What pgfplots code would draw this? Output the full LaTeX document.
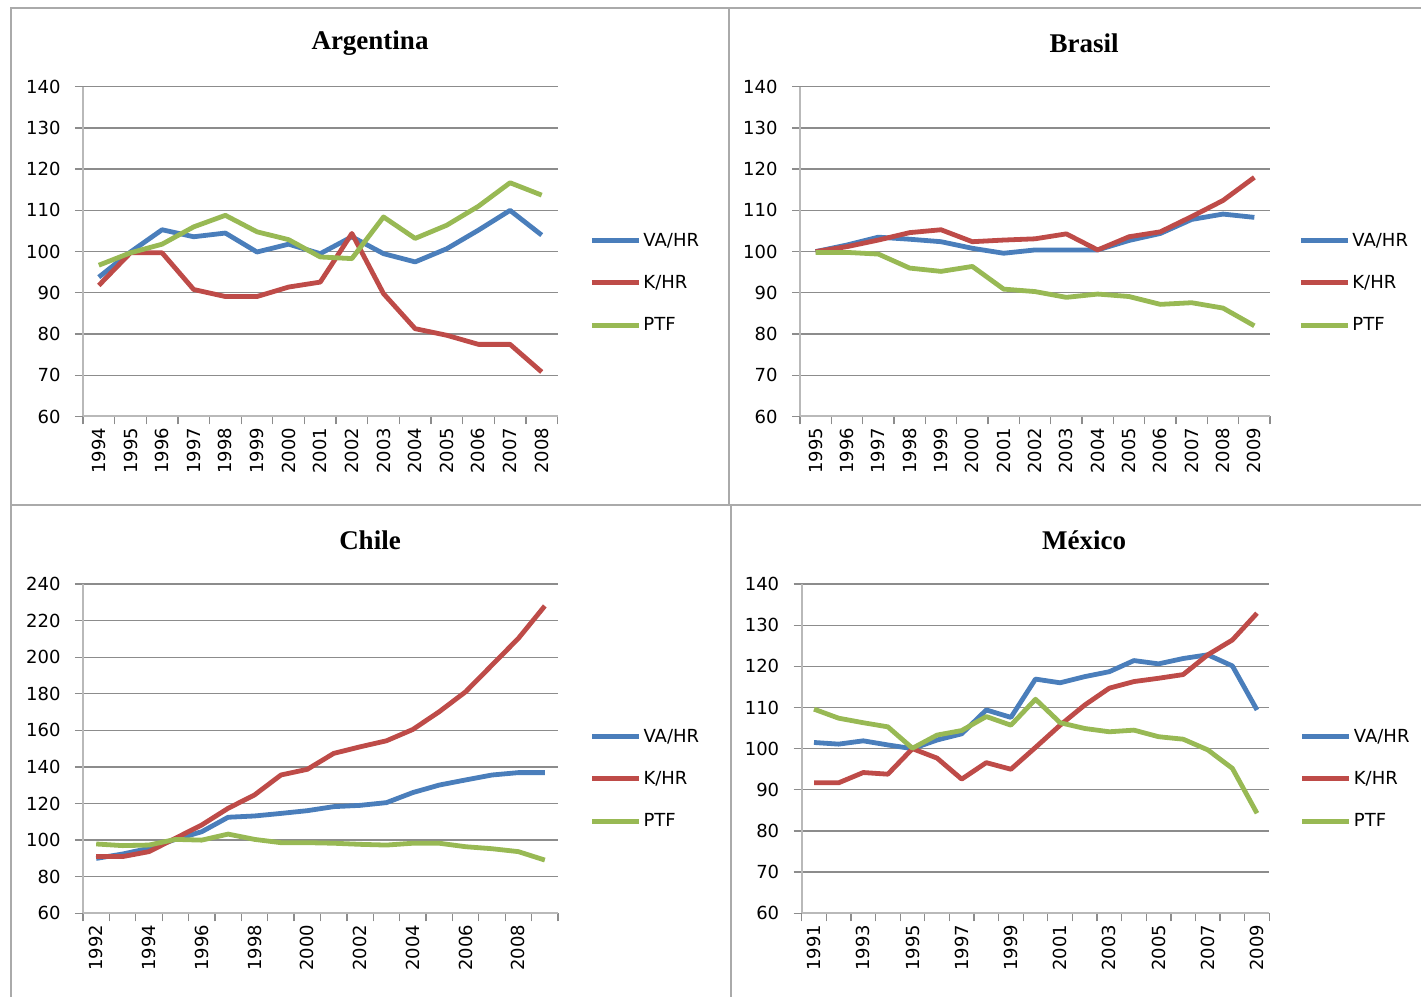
\documentclass[border=0pt]{standalone}
\usepackage{fontspec}
\usepackage{pgfplots}
\pgfplotsset{compat=1.18}
\newfontfamily\tickfont{DejaVu Sans}
\newfontfamily\titlefont{Liberation Serif}
\definecolor{cva}{RGB}{74,126,187}
\definecolor{ck}{RGB}{190,75,72}
\definecolor{cp}{RGB}{152,185,84}
\definecolor{gridc}{RGB}{140,140,140}
\definecolor{axc}{RGB}{185,185,185}
\definecolor{framec}{RGB}{170,170,170}
\newcommand{\tf}{\tickfont\fontsize{18}{21}\selectfont}
\pgfplotsset{
  panel/.style={
    scale only axis, anchor=south west,
    axis lines=left, axis line style={-, draw=axc, line width=2pt},
    ymajorgrids, grid style={draw=gridc, line width=1.3pt},
    tick align=outside, major tick length=8pt, minor tick length=8pt,
    ytick style={draw=gridc, line width=1.3pt},
    xtick style={draw=none},
    minor x tick style={draw=gridc, line width=1.3pt},
    /pgf/number format/assume math mode=true,
    tick label style={font=\tf},
    yticklabel style={xshift=-11pt},
    xticklabel style={rotate=90, anchor=east},
    legend cell align=left,
    legend style={draw=none, fill=none, inner sep=0pt, font=\tf, row sep=23.5pt, anchor=west},
    legend image code/.code={\draw[##1, line width=5pt] (0pt,0pt) -- (47pt,0pt);},
    every axis plot/.append style={line width=4.8pt, line join=round, mark=none},
  }
}
\begin{document}
\begin{tikzpicture}
\useasboundingbox (0pt,0pt) rectangle (1421pt,997pt);
% frame
\draw[framec, line width=2pt] (11pt,0pt) -- (11pt,989pt) -- (1421pt,989pt);
\draw[framec, line width=2pt] (729pt,989pt) -- (729pt,492pt);
\draw[framec, line width=2pt] (731pt,492pt) -- (731pt,0pt);
\draw[framec, line width=2pt] (11pt,492pt) -- (1421pt,492pt);
% titles
\node[font=\titlefont\bfseries\fontsize{27}{31}\selectfont] at (370pt,954pt) {Argentina};
\node[font=\titlefont\bfseries\fontsize{27}{31}\selectfont] at (1084pt,954pt) {Brasil};
\node[font=\titlefont\bfseries\fontsize{27}{31}\selectfont] at (370pt,457pt) {Chile};
\node[font=\titlefont\bfseries\fontsize{27}{31}\selectfont] at (1084pt,457pt) {México};

% Argentina
\begin{axis}[panel, at={(83pt,580.5pt)}, width=474.5pt, height=329.8pt,
  xmin=0.5, xmax=15.5, ymin=60, ymax=140, ytick={60,70,...,140},
  xtick={1,...,15}, minor xtick={0.5,1.5,...,15.5},
  xticklabels={1994,1995,1996,1997,1998,1999,2000,2001,2002,2003,2004,2005,2006,2007,2008},
  legend style={at={(1.067,0.405)}}]
\addplot[cva] coordinates {(1,93.8)(2,99.9)(3,105.3)(4,103.6)(5,104.5)(6,99.9)(7,101.8)(8,99.5)(9,103.6)(10,99.5)(11,97.5)(12,100.7)(13,105.2)(14,110)(15,104)};
\addplot[ck] coordinates {(1,91.8)(2,99.7)(3,99.7)(4,90.8)(5,89.1)(6,89.1)(7,91.4)(8,92.6)(9,104.4)(10,89.8)(11,81.3)(12,79.7)(13,77.5)(14,77.5)(15,70.8)};
\addplot[cp] coordinates {(1,96.7)(2,99.7)(3,101.8)(4,106)(5,108.8)(6,104.8)(7,102.9)(8,98.7)(9,98.3)(10,108.4)(11,103.2)(12,106.4)(13,111)(14,116.7)(15,113.7)};
\legend{VA/HR,K/HR,PTF}
\end{axis}

% Brasil
\begin{axis}[panel, at={(800pt,580.5pt)}, width=470pt, height=329.8pt,
  xmin=0.5, xmax=15.5, ymin=60, ymax=140, ytick={60,70,...,140},
  xtick={1,...,15}, minor xtick={0.5,1.5,...,15.5},
  xticklabels={1995,1996,1997,1998,1999,2000,2001,2002,2003,2004,2005,2006,2007,2008,2009},
  legend style={at={(1.06,0.405)}}]
\addplot[cva] coordinates {(1,100)(2,101.6)(3,103.5)(4,103)(5,102.4)(6,100.8)(7,99.6)(8,100.4)(9,100.4)(10,100.4)(11,102.7)(12,104.4)(13,107.8)(14,109.1)(15,108.3)};
\addplot[ck] coordinates {(1,100)(2,101.2)(3,102.8)(4,104.6)(5,105.3)(6,102.4)(7,102.8)(8,103.1)(9,104.3)(10,100.4)(11,103.6)(12,104.8)(13,108.5)(14,112.4)(15,118)};
\addplot[cp] coordinates {(1,99.8)(2,99.8)(3,99.4)(4,96)(5,95.2)(6,96.4)(7,90.9)(8,90.3)(9,88.9)(10,89.7)(11,89.1)(12,87.2)(13,87.6)(14,86.3)(15,82)};
\legend{VA/HR,K/HR,PTF}
\end{axis}

% Chile
\begin{axis}[panel, at={(83pt,83.7pt)}, width=475pt, height=329.3pt,
  xmin=0.5, xmax=18.5, ymin=60, ymax=240, ytick={60,80,...,240},
  xtick={1,3,...,17}, minor xtick={0.5,1.5,...,18.5},
  xticklabels={1992,1994,1996,1998,2000,2002,2004,2006,2008},
  legend style={at={(1.066,0.408)}}]
\addplot[cva] coordinates {(1,90)(2,92.4)(3,95.5)(4,100.4)(5,104.6)(6,112.5)(7,113.2)(8,114.6)(9,116.1)(10,118.3)(11,119)(12,120.5)(13,126)(14,130.1)(15,132.9)(16,135.6)(17,136.9)(18,136.9)};
\addplot[ck] coordinates {(1,91)(2,91)(3,93.7)(4,101)(5,108.3)(6,117.4)(7,124.7)(8,135.6)(9,138.7)(10,147.4)(11,151)(12,154.3)(13,160.5)(14,170.2)(15,181.1)(16,195.7)(17,210.3)(18,228)};
\addplot[cp] coordinates {(1,97.9)(2,97)(3,97.3)(4,100.4)(5,100)(6,103.3)(7,100.4)(8,98.6)(9,98.6)(10,98.3)(11,97.7)(12,97.3)(13,98.3)(14,98.3)(15,96.4)(16,95.3)(17,93.7)(18,89.1)};
\legend{VA/HR,K/HR,PTF}
\end{axis}

% Mexico
\begin{axis}[panel, at={(801.7pt,83.7pt)}, width=467.6pt, height=329.3pt,
  xmin=0.5, xmax=19.5, ymin=60, ymax=140, ytick={60,70,...,140},
  xtick={1,3,...,19}, minor xtick={0.5,1.5,...,19.5},
  xticklabels={1991,1993,1995,1997,1999,2001,2003,2005,2007,2009},
  legend style={at={(1.065,0.408)}}]
\addplot[cva] coordinates {(1,101.5)(2,101.1)(3,101.9)(4,100.9)(5,100)(6,102.1)(7,103.6)(8,109.4)(9,107.6)(10,116.9)(11,116)(12,117.5)(13,118.7)(14,121.4)(15,120.6)(16,121.9)(17,122.8)(18,120.1)(19,109.4)};
\addplot[ck] coordinates {(1,91.7)(2,91.7)(3,94.2)(4,93.8)(5,100)(6,97.7)(7,92.6)(8,96.6)(9,95)(10,100.3)(11,105.7)(12,110.6)(13,114.7)(14,116.3)(15,117.1)(16,118)(17,122.8)(18,126.4)(19,132.9)};
\addplot[cp] coordinates {(1,109.6)(2,107.4)(3,106.3)(4,105.3)(5,100.1)(6,103.3)(7,104.4)(8,107.8)(9,105.7)(10,112)(11,106.3)(12,104.9)(13,104.1)(14,104.5)(15,102.9)(16,102.3)(17,99.7)(18,95.2)(19,84.3)};
\legend{VA/HR,K/HR,PTF}
\end{axis}
\end{tikzpicture}
\end{document}
